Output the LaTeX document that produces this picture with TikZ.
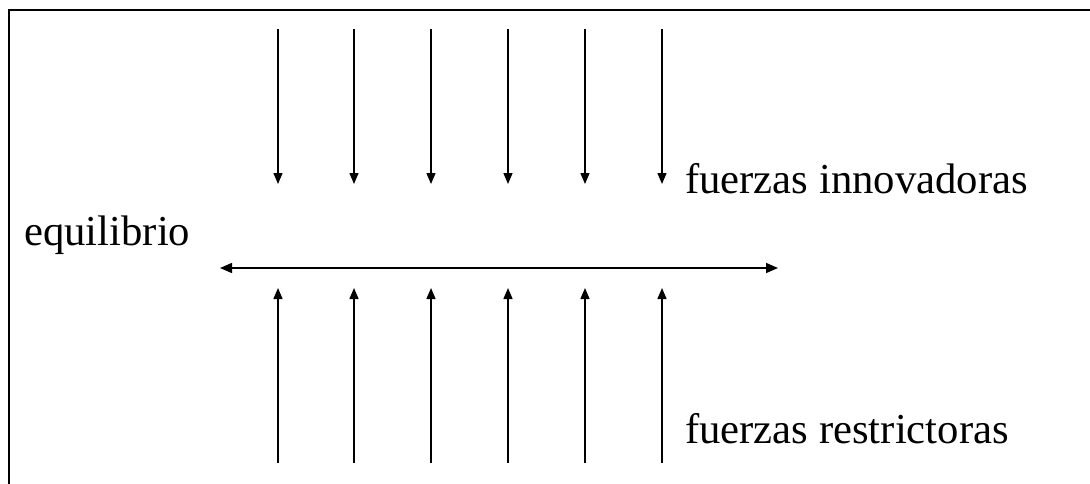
\documentclass[tikz,border=0pt]{standalone}
\usepackage{fontspec}
\setmainfont{Liberation Serif}
\usetikzlibrary{arrows.meta}
\tikzset{
  force/.style={line width=1.4pt, -{Triangle[width=9pt,length=11pt]}},
  balance/.style={line width=1.6pt, {Triangle[width=10pt,length=12pt]}-{Triangle[width=10pt,length=12pt]}},
  frame/.style={line width=2pt},
  lbl/.style={anchor=base west, inner sep=0pt, font=\fontsize{42.7}{50}\selectfont}
}
\begin{document}
\begin{tikzpicture}[x=1pt,y=-1pt]
\useasboundingbox (0,0) rectangle (1090,483);
\clip (0,0) rectangle (1090,483);
\draw[frame] (9,490) -- (9,10) -- (1100,10);
\foreach \i/\x in {1/278,2/354,3/431,4/508,5/585,6/662}{
  \coordinate (t\i) at (\x,29);
  \coordinate (tb\i) at (\x,184);
  \coordinate (b\i) at (\x,463);
  \coordinate (bt\i) at (\x,288);
  \draw[force] (t\i) -- (tb\i);
  \draw[force] (b\i) -- (bt\i);
}
\coordinate (hl) at (220,268);
\coordinate (hr) at (778,268);
\draw[balance] (hl) -- (hr);
\node[lbl] (eq) at (24,245) {equilibrio};
\node[lbl] (inn) at (685,193) {fuerzas innovadoras};
\node[lbl] (res) at (685,443) {fuerzas restrictoras};
\end{tikzpicture}
\end{document}
